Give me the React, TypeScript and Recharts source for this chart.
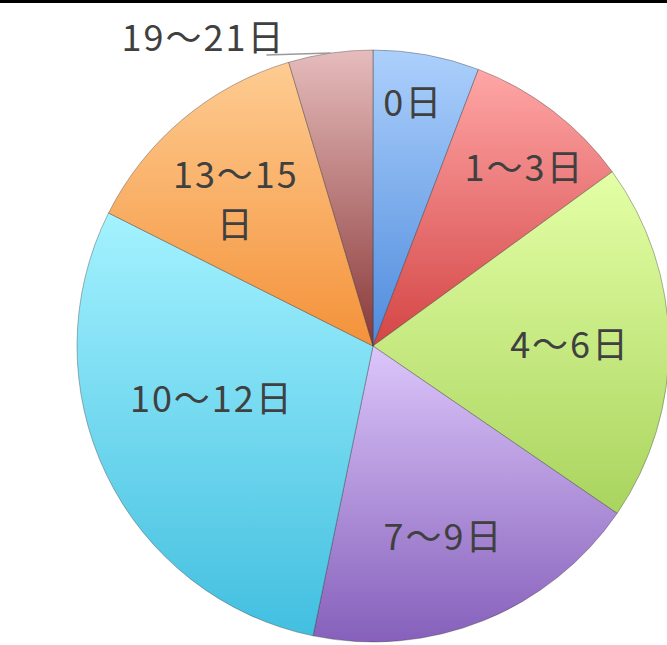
import React from 'react';
import { PieChart, Pie, Cell } from 'recharts';

// 日数の区分と割合(%)
const categories = ['0日', '1～3日', '4～6日', '7～9日', '10～12日', '13～15日', '19～21日'];
const shares = [5.8, 9.2, 19.6, 18.7, 29.2, 13.0, 4.6];

const pieData = categories.map((name, i) => ({ name, value: shares[i] }));

// slice gradients: top colour / bottom colour
const topColors = ['#acd0fc', '#ffa6a6', '#e4ffa6', '#dcc6fa', '#a4f2ff', '#fecc92', '#e6bcbc'];
const bottomColors = ['#4f8bdc', '#d44545', '#a9d45e', '#8660bb', '#42bfe0', '#f4923a', '#8a3838'];

// label placement: fraction of radius + small turn (deg) from the slice middle
const labelLayout = [
    { r: 0.83, turn: -1 },
    { r: 0.786, turn: 3.2 },
    { r: 0.666, turn: 0.7 },
    { r: 0.69, turn: 1.75 },
    { r: 0.574, turn: 7.3 },
    { r: 0.674, turn: -3.5, wrap: true },
    { outside: true },
];

const RAD = Math.PI / 180;
const textColor = '#404040';
const fontFamily = "'Noto Sans CJK JP', 'Noto Sans', sans-serif";
const nudge = -4; // glyphs sit a little low with a central baseline

const renderLabel = (props: any) => {
    const { cx, cy, midAngle, outerRadius, index } = props;
    const lay: any = labelLayout[index];
    const name = categories[index];
    const base = 90 - midAngle;

    if (lay.outside) {
        const mx = cx + outerRadius * Math.sin(base * RAD);
        const my = cy - outerRadius * Math.cos(base * RAD);
        return (
            <g key={`lbl-${index}`}>
                <path d={`M${mx},${my}L${mx - 64},${my + 2}`} stroke="#9a9a9a" strokeWidth={1.5} fill="none" />
                <text x={mx - 45} y={my - 2} textAnchor="end" fill={textColor} fontSize={36}
                    fontFamily={fontFamily} letterSpacing={2}>
                    {name}
                </text>
            </g>
        );
    }

    const theta = base + lay.turn;
    const r = outerRadius * lay.r;
    const x = cx + r * Math.sin(theta * RAD);
    const y = cy - r * Math.cos(theta * RAD) + nudge;

    if (lay.wrap) {
        return (
            <text key={`lbl-${index}`} x={x} y={y} textAnchor="middle" fill={textColor} fontSize={36}
                fontFamily={fontFamily} letterSpacing={2}>
                <tspan x={x} y={y - 25} dominantBaseline="central">{name.slice(0, -1)}</tspan>
                <tspan x={x} y={y + 25} dominantBaseline="central">{name.slice(-1)}</tspan>
            </text>
        );
    }

    return (
        <text key={`lbl-${index}`} x={x} y={y} textAnchor="middle" dominantBaseline="central" fill={textColor}
            fontSize={36} fontFamily={fontFamily} letterSpacing={2}>
            {name}
        </text>
    );
};

const App: React.FC = () => {
    return (
        <div style={{ position: 'absolute', top: 0, left: 0, width: 667, height: 645, background: '#fff', overflow: 'hidden' }}>
            <svg width={0} height={0} style={{ position: 'absolute' }}>
                <defs>
                    {categories.map((_, i) => (
                        <linearGradient key={i} id={`slice${i}`} x1="0" y1="0" x2="0" y2="1">
                            <stop offset="0%" stopColor={topColors[i]} />
                            <stop offset="100%" stopColor={bottomColors[i]} />
                        </linearGradient>
                    ))}
                </defs>
            </svg>
            <PieChart width={667} height={645} margin={{ top: 0, right: 0, bottom: 0, left: 0 }}>
                <Pie
                    data={pieData}
                    dataKey="value"
                    nameKey="name"
                    cx={373}
                    cy={346}
                    outerRadius={296}
                    startAngle={90}
                    endAngle={-270}
                    stroke="rgba(40,40,40,0.35)"
                    strokeWidth={1}
                    label={renderLabel}
                    labelLine={false}
                    isAnimationActive={false}
                >
                    {pieData.map((d, i) => (
                        <Cell key={d.name} fill={`url(#slice${i})`} />
                    ))}
                </Pie>
            </PieChart>
            <div style={{ position: 'absolute', top: 0, left: 0, width: 667, height: 3, background: '#000' }} />
        </div>
    );
};

export default App;
